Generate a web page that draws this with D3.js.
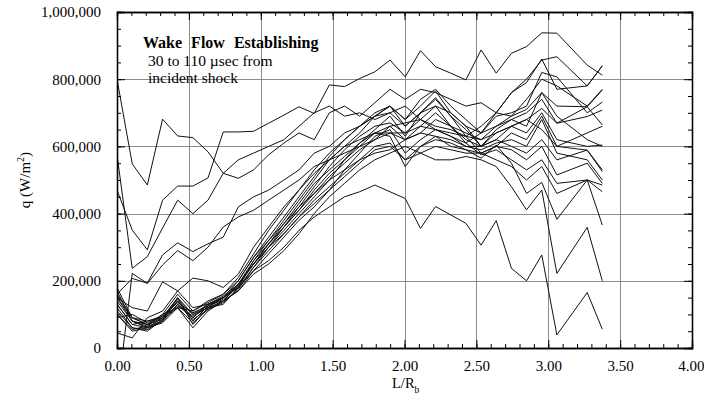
<!DOCTYPE html>
<html>
<head>
<meta charset="utf-8">
<script src="https://cdn.jsdelivr.net/npm/d3@7"></script>
<style>
  body { margin: 0; background: #fff; }
  svg { display: block; }
  text { font-family: "Liberation Serif", "Times New Roman", serif; fill: #000; }
</style>
</head>
<body>
<svg id="chart" width="704" height="402"></svg>
<script>
// Gauge stations along the wake, L/Rb (station at 3.16 not recorded)
const stations = [0.000, 0.106, 0.211, 0.317, 0.422, 0.528, 0.633, 0.739, 0.844, 0.950,
                  1.055, 1.161, 1.266, 1.372, 1.477, 1.583, 1.688, 1.794, 1.899, 2.005,
                  2.111, 2.216, 2.322, 2.427, 2.533, 2.638, 2.744, 2.849, 2.955, 3.060,
                  3.271, 3.376];

// Heat-flux traces, one per time slice, in kW/m^2
const run01 = [800, 548, 485, 681, 631, 626, 584, 520, 505, 530, 575, 610, 640, 620, 700, 720, 690, 730, 770, 740, 770, 760, 740, 720, 730, 700, 690, 740, 800, 780, 720, 770];
const run02 = [470, 351, 292, 440, 482, 482, 506, 643, 643, 645, 669, 693, 718, 698, 783, 778, 802, 822, 857, 807, 885, 837, 818, 798, 887, 818, 877, 897, 938, 937, 842, 812];
const run03 = [575, 237, 272, 357, 440, 400, 440, 520, 560, 580, 600, 620, 660, 700, 720, 690, 700, 680, 700, 720, 680, 650, 640, 630, 660, 700, 760, 800, 857, 867, 780, 840];
const run04 = [160, 207, 193, 277, 313, 287, 310, 330, 420, 450, 470, 500, 530, 580, 600, 640, 660, 690, 720, 660, 700, 720, 700, 660, 640, 690, 700, 720, 820, 807, 700, 732];
const run05 = [150, 120, 110, 197, 170, 208, 200, 180, 220, 300, 360, 420, 470, 520, 560, 600, 620, 640, 660, 620, 640, 680, 660, 620, 600, 640, 660, 680, 713, 669, 689, 708];
const run06 = [-150, 222, 192, 247, 290, 260, 300, 360, 390, 410, 440, 470, 500, 540, 560, 580, 600, 620, 640, 640, 660, 650, 630, 610, 640, 660, 690, 710, 760, 720, 718, 664];
const run07 = [180, 90, 70, 90, 150, 70, 120, 130, 180, 260, 320, 380, 440, 500, 560, 600, 640, 690, 700, 660, 700, 740, 690, 650, 600, 620, 660, 640, 700, 620, 600, 604];
const run08 = [120, 60, 55, 80, 130, 90, 130, 150, 190, 250, 300, 350, 400, 450, 500, 560, 610, 650, 690, 630, 700, 745, 690, 630, 580, 600, 640, 620, 690, 600, 589, 530];
const run09 = [100, 50, 60, 75, 120, 60, 110, 140, 170, 230, 280, 330, 380, 420, 470, 530, 580, 630, 650, 580, 620, 650, 630, 600, 590, 610, 620, 600, 680, 580, 560, 500];
const run10 = [170, 80, 70, 100, 160, 110, 140, 160, 200, 270, 330, 390, 450, 510, 570, 620, 660, 690, 720, 680, 720, 765, 700, 660, 600, 650, 680, 660, 760, 690, 620, 600];
const run11 = [130, 70, 80, 90, 140, 80, 125, 150, 180, 240, 290, 340, 390, 440, 480, 520, 560, 600, 610, 560, 600, 620, 610, 590, 580, 600, 590, 560, 600, 515, 550, 490];
const run12 = [45, 30, 90, 110, 170, 120, 130, 140, 190, 250, 310, 360, 410, 470, 520, 560, 600, 640, 640, 620, 660, 700, 660, 640, 620, 660, 680, 700, 740, 669, 718, 768];
const run13 = [110, 60, 50, 85, 120, 75, 115, 135, 175, 240, 300, 360, 420, 480, 540, 590, 630, 660, 670, 640, 680, 720, 660, 610, 575, 590, 560, 530, 560, 490, 500, 485];
const run14 = [90, 100, 75, 95, 145, 100, 130, 155, 190, 250, 310, 370, 430, 490, 530, 570, 610, 640, 630, 540, 600, 630, 620, 600, 600, 620, 600, 580, 620, 560, 589, 525];
const run15 = [150, 80, 65, 80, 130, 85, 115, 140, 185, 250, 300, 340, 390, 430, 470, 510, 550, 590, 600, 560, 580, 600, 590, 580, 580, 560, 540, 500, 540, 460, 500, 465];
const run16 = [160, 90, 80, 95, 135, 105, 125, 145, 190, 260, 310, 360, 410, 460, 510, 550, 590, 620, 660, 670, 680, 660, 650, 630, 620, 640, 660, 680, 650, 600, 640, 660];
const run17 = [140, 80, 60, 90, 125, 95, 120, 150, 200, 270, 320, 370, 420, 460, 500, 530, 560, 580, 590, 620, 640, 630, 600, 590, 565, 604, 550, 460, 493, 383, 500, 366];
const run18 = [130, 70, 60, 80, 150, 100, 120, 140, 170, 220, 250, 290, 340, 400, 450, 490, 530, 560, 580, 600, 580, 560, 560, 570, 560, 540, 480, 411, 470, 222, 359, 200];
const run19 = [150, 90, 70, 85, 140, 90, 130, 150, 180, 230, 260, 300, 350, 390, 420, 450, 465, 485, 465, 445, 356, 421, 396, 371, 306, 379, 237, 200, 277, 39, 165, 56];
const run20 = [100, 55, 65, 100, 120, 110, 135, 160, 210, 280, 350, 410, 470, 530, 580, 620, 660, 700, 720, 680, 740, 770, 720, 680, 640, 700, 760, 790, 860, 770, 780, 840];

const runs = [run01, run02, run03, run04, run05, run06, run07, run08, run09, run10,
              run11, run12, run13, run14, run15, run16, run17, run18, run19, run20];

const xTicks = [0, 0.5, 1, 1.5, 2, 2.5, 3, 3.5, 4];
const yTicks = [0, 200000, 400000, 600000, 800000, 1000000];

const svg = d3.select("#chart");
const plotLeft = 117, plotRight = 692, plotTop = 12, plotBottom = 348;

const x = d3.scaleLinear().domain([0, 4]).range([plotLeft, plotRight]);
const y = d3.scaleLinear().domain([0, 1000000]).range([plotBottom, plotTop]);

// grid
const grid = svg.append("g").attr("stroke", "#8c8c8c").attr("stroke-width", 1);
grid.selectAll("line.gx").data(xTicks.slice(1, -1)).join("line")
  .attr("x1", d => Math.round(x(d)) + 0.5).attr("x2", d => Math.round(x(d)) + 0.5)
  .attr("y1", plotTop).attr("y2", plotBottom);
grid.selectAll("line.gy").data(yTicks.slice(1, -1)).join("line")
  .attr("y1", d => Math.round(y(d)) + 0.5).attr("y2", d => Math.round(y(d)) + 0.5)
  .attr("x1", plotLeft).attr("x2", plotRight);

// traces
svg.append("clipPath").attr("id", "plotclip").append("rect")
  .attr("x", plotLeft).attr("y", plotTop)
  .attr("width", plotRight - plotLeft).attr("height", plotBottom - plotTop);

const line = d3.line()
  .x((d, i) => x(stations[i]))
  .y(d => y(d * 1000));

svg.append("g").attr("clip-path", "url(#plotclip)")
  .selectAll("path").data(runs).join("path")
  .attr("d", line)
  .attr("fill", "none")
  .attr("stroke", "#111")
  .attr("stroke-width", 1)
  .attr("stroke-linejoin", "miter");

// axes with inward ticks on all four sides
const xMinor = d3.range(0, 4.0001, 0.1);
const yMinor = d3.range(0, 1000001, 50000);

const axB = d3.axisBottom(x).tickValues(xTicks).tickSize(-8).tickFormat(d3.format(".2f")).tickPadding(12);
const axBm = d3.axisBottom(x).tickValues(xMinor).tickSize(-4).tickFormat("");
const axT = d3.axisTop(x).tickValues(xTicks).tickSize(-8).tickFormat("");
const axTm = d3.axisTop(x).tickValues(xMinor).tickSize(-4).tickFormat("");
const axL = d3.axisLeft(y).tickValues(yTicks).tickSize(-8).tickFormat(d3.format(",")).tickPadding(16);
const axLm = d3.axisLeft(y).tickValues(yMinor).tickSize(-4).tickFormat("");
const axR = d3.axisRight(y).tickValues(yTicks).tickSize(-8).tickFormat("");
const axRm = d3.axisRight(y).tickValues(yMinor).tickSize(-4).tickFormat("");

function styleAxis(g) {
  g.select(".domain").attr("stroke", "#000").attr("stroke-width", 1.3);
  g.selectAll(".tick line").attr("stroke", "#000").attr("stroke-width", 1);
  g.selectAll(".tick text").attr("font-family", "Liberation Serif").attr("font-size", 15).attr("fill", "#000");
}

svg.append("g").attr("transform", `translate(0,${plotBottom})`).call(axBm).call(styleAxis);
const bottomAxis = svg.append("g").attr("transform", `translate(0,${plotBottom})`).call(axB).call(styleAxis);
// keep the last label inside the canvas
bottomAxis.selectAll(".tick text").filter(d => d === 4).attr("text-anchor", "end").attr("dx", 12);
svg.append("g").attr("transform", `translate(0,${plotTop})`).call(axTm).call(styleAxis);
svg.append("g").attr("transform", `translate(0,${plotTop})`).call(axT).call(styleAxis);
svg.append("g").attr("transform", `translate(${plotLeft},0)`).call(axLm).call(styleAxis);
svg.append("g").attr("transform", `translate(${plotLeft},0)`).call(axL).call(styleAxis);
svg.append("g").attr("transform", `translate(${plotRight},0)`).call(axRm).call(styleAxis);
svg.append("g").attr("transform", `translate(${plotRight},0)`).call(axR).call(styleAxis);

// axis titles
const xt = svg.append("text").attr("x", 392).attr("y", 388).attr("font-size", 14.5);
xt.append("tspan").text("L/R");
xt.append("tspan").attr("dy", 5).attr("font-size", 9.5).text("b");

const yt = svg.append("text")
  .attr("transform", "translate(30,180) rotate(-90)")
  .attr("text-anchor", "middle").attr("font-size", 15);
yt.append("tspan").text("q (W/m");
yt.append("tspan").attr("dy", -6).attr("font-size", 10).text("2");
yt.append("tspan").attr("dy", 6).text(")");

// annotation
svg.append("text").attr("x", 143).attr("y", 48).attr("font-size", 16)
  .attr("font-weight", "bold").attr("word-spacing", 5).text("Wake Flow Establishing");
svg.append("text").attr("x", 148).attr("y", 66).attr("font-size", 15.5).text("30 to 110 \u00b5sec from");
svg.append("text").attr("x", 148).attr("y", 83).attr("font-size", 15.5).text("incident shock");
</script>
</body>
</html>
